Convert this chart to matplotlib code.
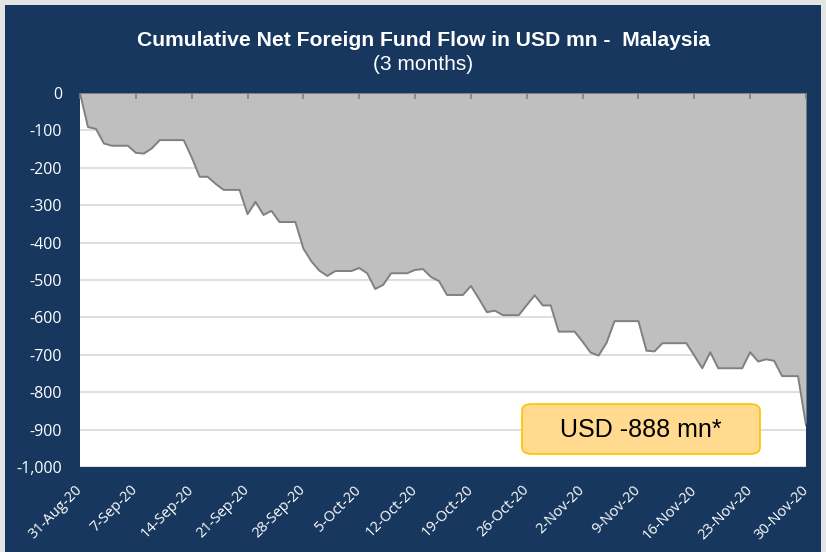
import numpy as np
import matplotlib
matplotlib.use("Agg")
import matplotlib.pyplot as plt
from matplotlib.patches import Rectangle, FancyBboxPatch

# cumulative net foreign fund flow, USD mn, one value per day from 31-Aug-20
flow = [0, -91, -96, -135, -141, -141, -141, -160, -162, -148,
        -126, -126, -126, -126, -172, -224, -224, -243, -259, -259,
        -259, -324, -291, -326, -315, -345, -345, -345, -416, -450,
        -475, -489, -476, -476, -476, -468, -482, -524, -513, -482,
        -482, -482, -473, -471, -492, -503, -540, -540, -540, -516,
        -550, -586, -582, -594, -594, -594, -567, -541, -568, -568,
        -638, -638, -638, -665, -694, -702, -668, -610, -610, -610,
        -610, -689, -691, -669, -669, -669, -669, -702, -736, -693,
        -736, -736, -736, -736, -693, -718, -712, -716, -757, -757,
        -757, -888]
tick_labels = ["31-Aug-20", "7-Sep-20", "14-Sep-20", "21-Sep-20", "28-Sep-20",
               "5-Oct-20", "12-Oct-20", "19-Oct-20", "26-Oct-20", "2-Nov-20",
               "9-Nov-20", "16-Nov-20", "23-Nov-20", "30-Nov-20"]
yticks = np.arange(-1000, 1, 100)

navy = "#17375E"
W, H = 826, 552

fig = plt.figure(figsize=(W / 100, H / 100), dpi=100, facecolor="#E4E4E4")
fig.patches.append(Rectangle((5 / W, 0), (821 - 5) / W, 1 - 5 / H,
                             transform=fig.transFigure, facecolor=navy,
                             edgecolor="none", zorder=-1))

ax = fig.add_axes([80 / W, 1 - 467 / H, 726 / W, 374 / H])
ax.set_facecolor("white")

days = np.arange(len(flow))
ax.fill_between(days, flow, 0, color="#BFBFBF", linewidth=0, zorder=2)
ax.plot(days, flow, color="#808080", linewidth=1.4, zorder=3)
ax.axhline(0, color="#808080", linewidth=1.4, zorder=4)
# weekly tick marks hanging from the zero line
ax.plot(days[::7], np.zeros(len(days[::7])), linestyle="none", marker=3,
        markersize=4, markeredgewidth=1.2, color="#808080", zorder=5,
        clip_on=False)

ax.set_xlim(0, len(flow) - 1)
ax.set_ylim(-1000, 0)

ax.set_yticks(yticks)
ax.set_yticklabels(["{:,}".format(v) for v in yticks])
ax.yaxis.grid(True, color="#D9D9D9", linewidth=1.2, zorder=1)
ax.set_axisbelow(True)
ax.tick_params(axis="y", length=0, pad=13, labelcolor="white", labelsize=11.5)

ax.set_xticks(days[::7])
ax.set_xticklabels(tick_labels, rotation=45, ha="right", va="center",
                   rotation_mode="anchor")
ax.tick_params(axis="x", length=0, labelcolor="white", labelsize=10.5, pad=15)
for lbl in ax.get_xticklabels() + ax.get_yticklabels():
    lbl.set_fontfamily("Open Sans")

for s in ax.spines.values():
    s.set_visible(False)

fig.text(424 / W, 1 - 40 / H, "Cumulative Net Foreign Fund Flow in USD mn -  Malaysia",
         color="white", fontsize=15.2, fontweight="bold", family="Liberation Sans",
         ha="center", va="center")
fig.text(423 / W, 1 - 65 / H, "(3 months)", color="white", fontsize=15,
         family="Liberation Sans", ha="center", va="center")

# annotation box
box = FancyBboxPatch((522 / W, 1 - 454 / H), 238 / W, 50 / H,
                     boxstyle="round,pad=0,rounding_size=0.012",
                     transform=fig.transFigure, facecolor="#FFDA8F",
                     edgecolor="#FFC000", linewidth=1.2, zorder=5)
fig.patches.append(box)
fig.text(641 / W, 1 - 430 / H, "USD -888 mn*", fontsize=18, family="Liberation Sans",
         color="black", ha="center", va="center", zorder=6)

fig.savefig("out.png", dpi=100, facecolor=fig.get_facecolor())
